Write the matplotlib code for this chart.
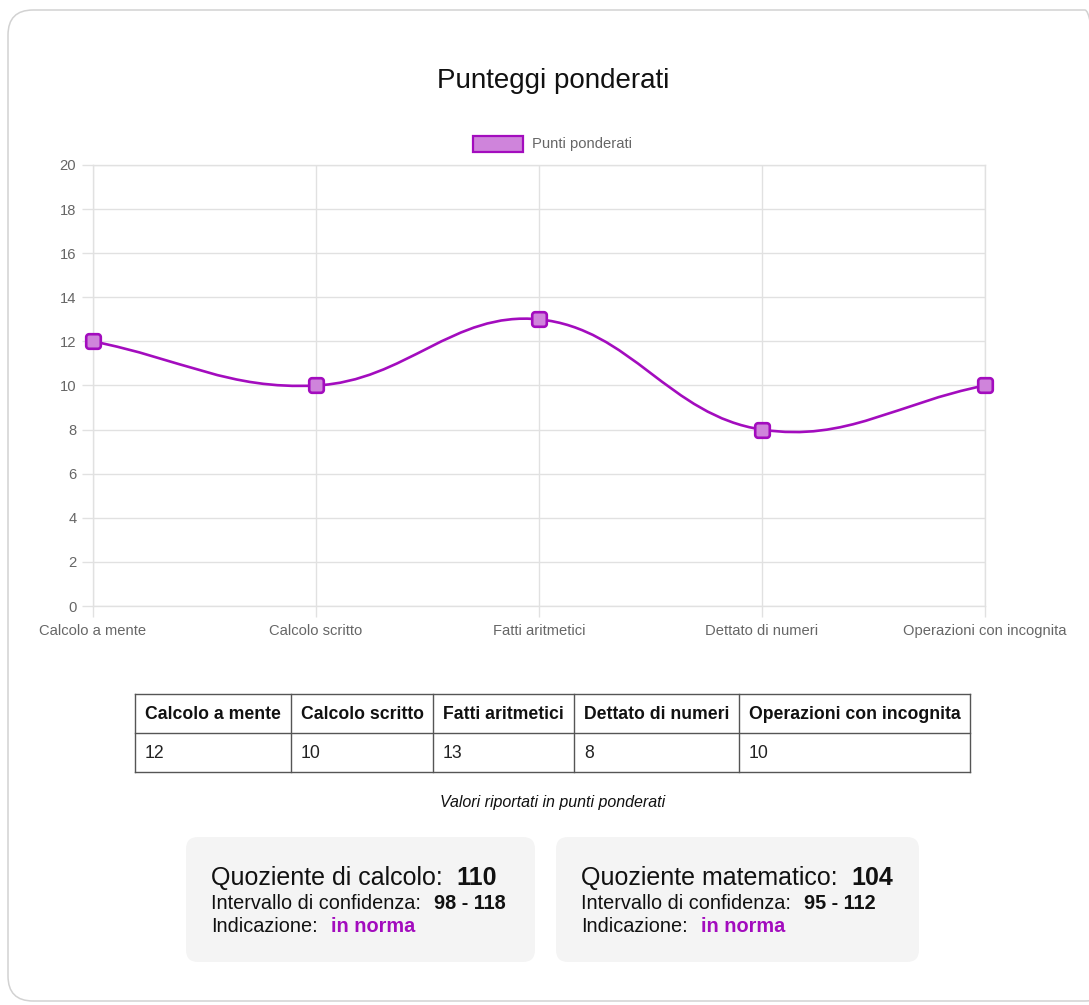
import matplotlib
matplotlib.use("Agg")
import matplotlib.pyplot as plt
from matplotlib.patches import FancyBboxPatch, Rectangle
from matplotlib.path import Path
from matplotlib.patches import PathPatch
import numpy as np

plt.rcParams['font.family'] = ['Liberation Sans', 'DejaVu Sans']

# ---- data ----
categories = ["Calcolo a mente", "Calcolo scritto", "Fatti aritmetici",
              "Dettato di numeri", "Operazioni con incognita"]
values = [12, 10, 13, 8, 10]
y_ticks = [0, 2, 4, 6, 8, 10, 12, 14, 16, 18, 20]
title = "Punteggi ponderati"
series_name = "Punti ponderati"
caption = "Valori riportati in punti ponderati"
box_titles = ["Quoziente di calcolo:", "Quoziente matematico:"]
box_scores = ["110", "104"]
box_intervals = ["98 - 118", "95 - 112"]
box_indications = ["in norma", "in norma"]

W, H = 1089, 1005
LINE = '#a30cbe'
FILL = '#cf84db'
GRID = '#e1e1e1'
TICK = '#666666'

fig = plt.figure(figsize=(W / 100, H / 100), dpi=100)
fig.patch.set_facecolor('white')


def fx(x):
    return x / W


def fy(y):
    return 1 - y / H


# rounded-square marker path
def rounded_square(r=0.4, k=8):
    pts = []
    centers = [(1 - r, 1 - r, 0), (-1 + r, 1 - r, 90),
               (-1 + r, -1 + r, 180), (1 - r, -1 + r, 270)]
    for cx, cy, a0 in centers:
        for a in np.linspace(np.radians(a0), np.radians(a0 + 90), k):
            pts.append((cx + r * np.cos(a), cy + r * np.sin(a)))
    pts.append(pts[0])
    codes = [Path.MOVETO] + [Path.LINETO] * (len(pts) - 2) + [Path.CLOSEPOLY]
    return Path(np.array(pts), codes)


# outer card
card = FancyBboxPatch((fx(8), fy(1001)), fx(1110) - fx(8), fy(10) - fy(1001),
                      boxstyle="round,pad=0,rounding_size=0.023",
                      transform=fig.transFigure, facecolor='none',
                      edgecolor='#d2d2d2', linewidth=1.1, zorder=0,
                      mutation_aspect=W / H)
fig.patches.append(card)

# ---- chart ----
L, R, T, B = 93, 985, 165, 606
ax = fig.add_axes([fx(L), fy(B), fx(R) - fx(L), fy(T) - fy(B)])
ax.set_facecolor('none')
n = len(categories)
xs = np.arange(n)
ax.set_xlim(0, n - 1)
ax.set_ylim(0, 20)
ax.set_yticks(y_ticks)
ax.set_xticks(xs)
ax.set_xticklabels(categories)
ax.tick_params(axis='both', colors=GRID, labelcolor=TICK, labelsize=10.6,
               length=8, width=1)
ax.tick_params(axis='x', pad=5)
ax.tick_params(axis='y', pad=4)
ax.grid(True, color=GRID, linewidth=1)
for s in ax.spines.values():
    s.set_color(GRID)
    s.set_linewidth(1)
    s.set_visible(True)

# Chart.js style bezier (tension 0.4) computed in pixel space
sx = (R - L) / (n - 1)
sy = (B - T) / 20.0
P = np.array([[x * sx, v * sy] for x, v in zip(xs, values)])
t = 0.4
prevCP, nextCP = [], []
for i in range(n):
    cur = P[i]
    prev = P[i - 1] if i > 0 else cur
    nxt = P[i + 1] if i < n - 1 else cur
    d01 = np.hypot(*(cur - prev))
    d12 = np.hypot(*(nxt - cur))
    tot = d01 + d12
    s01 = d01 / tot if tot else 0
    s12 = d12 / tot if tot else 0
    prevCP.append(cur - t * s01 * (nxt - prev))
    nextCP.append(cur + t * s12 * (nxt - prev))
verts = [P[0]]
codes = [Path.MOVETO]
for i in range(n - 1):
    verts += [nextCP[i], prevCP[i + 1], P[i + 1]]
    codes += [Path.CURVE4] * 3
verts = np.array(verts) / np.array([sx, sy])
ax.add_patch(PathPatch(Path(verts, codes), facecolor='none', edgecolor=LINE,
                       linewidth=1.9, zorder=3, clip_on=False))
ax.plot(xs, values, linestyle='none',
        marker=rounded_square(), markersize=10.5,
        markerfacecolor=FILL, markeredgecolor=LINE, markeredgewidth=1.9,
        zorder=4, clip_on=False)

# title & legend
fig.text(fx(553), fy(81), title, ha='center', va='center', fontsize=20,
         color='#111111')
fig.patches.append(Rectangle((fx(473), fy(152)), fx(523) - fx(473),
                             fy(136) - fy(152), transform=fig.transFigure,
                             facecolor=FILL, edgecolor=LINE, linewidth=1.6))
fig.text(fx(532), fy(144), series_name, ha='left', va='center', fontsize=10.6,
         color=TICK)

# ---- table ----
cols = [135, 291, 433, 574, 739, 970]
rows = [694, 733, 772]
tcol = '#555555'
for y in rows:
    fig.add_artist(plt.Line2D([fx(cols[0]), fx(cols[-1])], [fy(y), fy(y)],
                              transform=fig.transFigure, color=tcol, lw=1))
for x in cols:
    fig.add_artist(plt.Line2D([fx(x), fx(x)], [fy(rows[0]), fy(rows[-1])],
                              transform=fig.transFigure, color=tcol, lw=1))
for i, (c, v) in enumerate(zip(categories, values)):
    fig.text(fx(cols[i] + 10), fy((rows[0] + rows[1]) / 2 + 1), c,
             ha='left', va='center', fontsize=12.7, fontweight='bold',
             color='#111111')
    fig.text(fx(cols[i] + 10), fy((rows[1] + rows[2]) / 2 + 1), str(v),
             ha='left', va='center', fontsize=12.7, color='#222222')

fig.text(fx(553), fy(802), caption, ha='center', va='center', fontsize=11.5,
         style='italic', color='#111111')

# ---- score boxes ----
boxes = [(186, 535), (556, 919)]
BT, BB = 837, 962
for (x0, x1) in boxes:
    fig.patches.append(FancyBboxPatch(
        (fx(x0), fy(BB)), fx(x1) - fx(x0), fy(BT) - fy(BB),
        boxstyle="round,pad=0,rounding_size=0.011", mutation_aspect=W / H,
        transform=fig.transFigure, facecolor='#f4f4f4', edgecolor='none'))

fig.canvas.draw()
renderer = fig.canvas.get_renderer()


def pair(x, y, a, b, size, gap, bcolor='#111111'):
    t1 = fig.text(fx(x), fy(y), a, ha='left', va='baseline', fontsize=size,
                  color='#111111')
    fig.canvas.draw()
    ext = t1.get_window_extent(renderer)
    x2 = ext.x1 + gap
    fig.text(x2 / W, fy(y), b, ha='left', va='baseline', fontsize=size,
             fontweight='bold', color=bcolor)


for (x0, x1), bt, sc, iv, ind in zip(boxes, box_titles, box_scores,
                                     box_intervals, box_indications):
    tx = x0 + 25
    pair(tx, 885, bt, sc, 18, 14)
    pair(tx, 909, "Intervallo di confidenza:", iv, 14.3, 13)
    pair(tx, 932, "Indicazione:", ind, 14.3, 13, bcolor=LINE)

fig.savefig('out.png', dpi=100, facecolor='white')
